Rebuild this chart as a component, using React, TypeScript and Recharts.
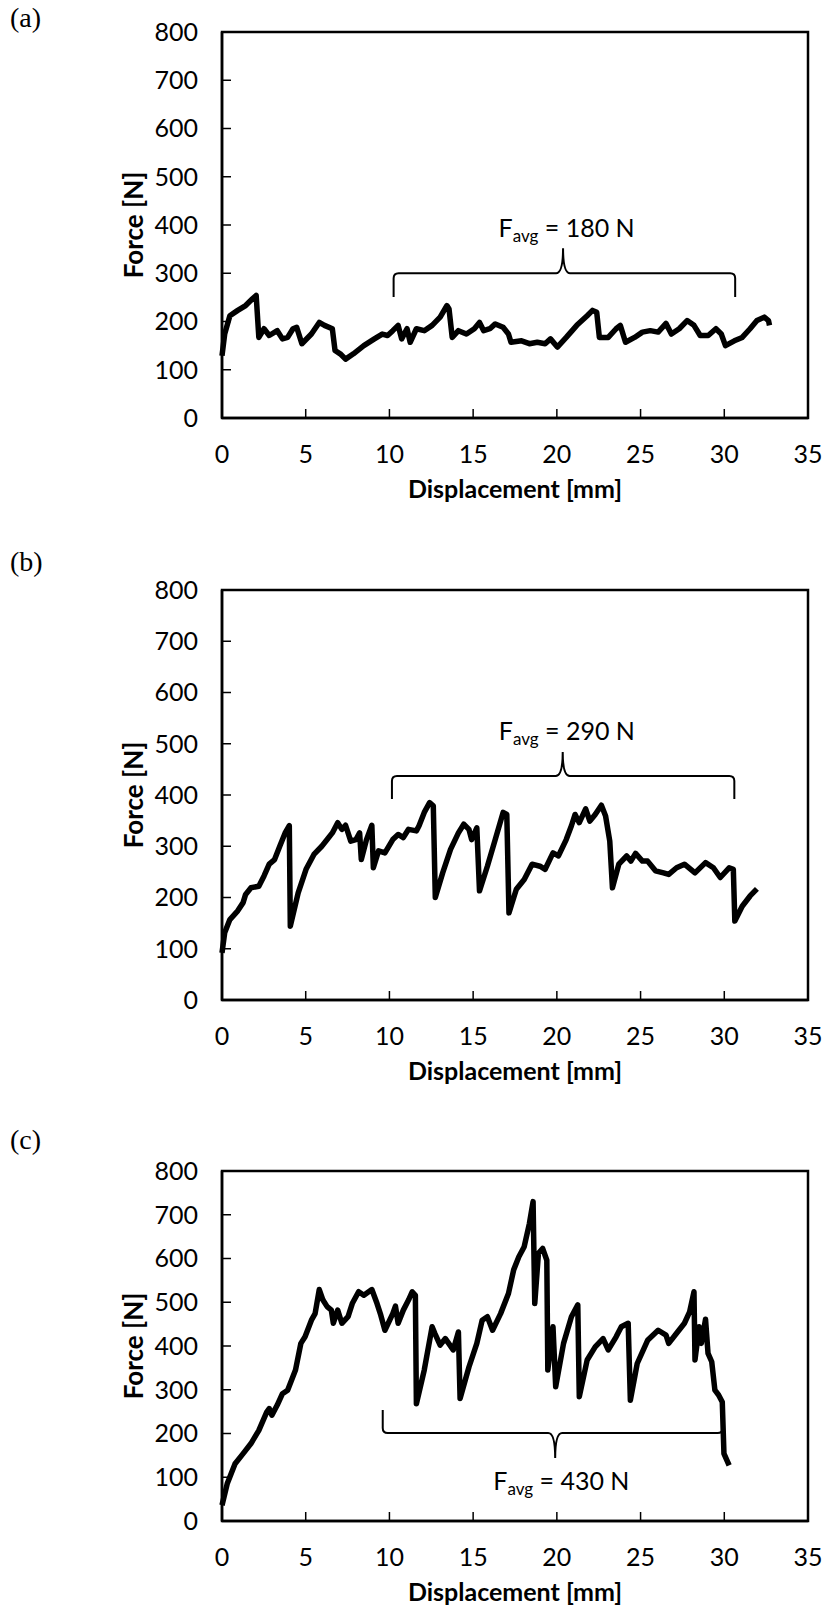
import React from 'react';
import { LineChart, Line, XAxis, YAxis, ReferenceArea, ReferenceDot } from 'recharts';

// ---- ticks ----
const X_TICKS = [0, 5, 10, 15, 20, 25, 30, 35];
const Y_TICKS = [0, 100, 200, 300, 400, 500, 600, 700, 800];

// ---- panel (a) ----
const DISP_A = [0, 0.16, 0.47, 0.94, 1.41, 1.82, 2.04, 2.2, 2.51, 2.82, 3.3, 3.61, 3.92, 4.24, 4.46, 4.77, 5.34, 5.81, 6.12, 6.59, 6.75, 7.06, 7.38, 7.85, 8.47, 9.1, 9.57, 9.89, 10.2, 10.52, 10.73, 11.05, 11.24, 11.61, 12.08, 12.55, 13.03, 13.43, 13.56, 13.75, 14.12, 14.6, 15.07, 15.38, 15.63, 16.0, 16.32, 16.79, 17.11, 17.26, 17.89, 18.36, 18.83, 19.3, 19.62, 20.03, 20.56, 21.19, 21.81, 22.13, 22.38, 22.54, 23.07, 23.54, 23.79, 24.1, 24.64, 25.11, 25.58, 26.05, 26.52, 26.84, 27.31, 27.78, 28.19, 28.56, 29.04, 29.5, 29.82, 30.07, 30.6, 31.07, 31.54, 31.95, 32.39, 32.64, 32.7];
const FORCE_A = [129, 174, 212, 223, 233, 247, 254, 167, 185, 171, 181, 164, 167, 185, 188, 154, 174, 198, 192, 185, 140, 133, 122, 133, 150, 164, 174, 171, 181, 192, 164, 185, 157, 185, 181, 192, 209, 233, 226, 167, 181, 174, 185, 198, 181, 185, 195, 188, 174, 157, 160, 154, 157, 154, 164, 147, 167, 192, 212, 223, 219, 167, 167, 185, 192, 157, 167, 178, 181, 178, 196, 174, 185, 202, 192, 171, 171, 185, 174, 150, 160, 167, 185, 202, 209, 202, 192];

// ---- panel (b) ----
const DISP_B = [0, 0.16, 0.47, 0.94, 1.26, 1.41, 1.73, 2.2, 2.51, 2.82, 3.14, 3.45, 3.77, 4.02, 4.08, 4.55, 5.02, 5.49, 5.96, 6.28, 6.59, 6.91, 7.16, 7.38, 7.69, 8.0, 8.22, 8.32, 8.63, 8.95, 9.04, 9.35, 9.73, 10.2, 10.52, 10.83, 11.14, 11.61, 11.77, 12.08, 12.4, 12.62, 12.74, 13.18, 13.65, 14.12, 14.44, 14.75, 14.91, 15.22, 15.38, 15.85, 16.32, 16.79, 17.01, 17.14, 17.58, 18.05, 18.52, 18.99, 19.3, 19.77, 20.09, 20.56, 20.87, 21.09, 21.34, 21.72, 21.97, 22.29, 22.66, 22.91, 23.16, 23.32, 23.7, 24.17, 24.42, 24.7, 25.11, 25.42, 25.89, 26.37, 26.68, 27.15, 27.62, 28.25, 28.88, 29.35, 29.76, 30.29, 30.54, 30.63, 31.07, 31.54, 31.95];
const FORCE_B = [92, 131, 157, 174, 190, 206, 219, 222, 242, 265, 274, 300, 326, 340, 144, 209, 255, 284, 300, 313, 326, 346, 333, 341, 310, 313, 326, 274, 313, 341, 258, 291, 287, 313, 323, 317, 333, 330, 340, 366, 385, 379, 200, 248, 294, 326, 343, 333, 313, 336, 213, 261, 313, 366, 362, 170, 216, 235, 265, 261, 255, 287, 281, 313, 340, 362, 346, 373, 349, 362, 380, 359, 310, 219, 265, 281, 271, 286, 271, 271, 252, 248, 245, 258, 265, 248, 268, 258, 239, 258, 255, 154, 183, 203, 217];

// ---- panel (c) ----
const DISP_C = [0, 0.31, 0.78, 1.26, 1.73, 2.2, 2.67, 2.82, 2.98, 3.3, 3.61, 3.92, 4.39, 4.71, 4.96, 5.34, 5.56, 5.81, 6.03, 6.28, 6.53, 6.65, 6.91, 7.16, 7.53, 7.78, 8.16, 8.47, 8.95, 9.26, 9.48, 9.73, 10.2, 10.36, 10.52, 10.83, 11.14, 11.36, 11.55, 11.61, 12.08, 12.55, 12.71, 13.03, 13.34, 13.81, 14.12, 14.22, 14.75, 15.22, 15.54, 15.85, 16.16, 16.64, 17.11, 17.42, 17.73, 18.05, 18.36, 18.58, 18.68, 18.9, 19.15, 19.4, 19.46, 19.77, 19.93, 20.4, 20.87, 21.25, 21.34, 21.81, 22.29, 22.76, 23.07, 23.54, 23.85, 24.26, 24.39, 24.8, 25.42, 26.05, 26.52, 26.68, 27.15, 27.62, 27.93, 28.19, 28.25, 28.5, 28.63, 28.88, 29.03, 29.25, 29.44, 29.66, 29.88, 29.98, 30.29];
const FORCE_C = [36, 85, 131, 154, 177, 207, 249, 257, 242, 265, 291, 299, 345, 406, 421, 459, 474, 529, 505, 490, 482, 452, 482, 452, 467, 497, 524, 516, 529, 497, 471, 436, 474, 491, 452, 482, 505, 524, 516, 268, 345, 444, 429, 402, 417, 391, 432, 280, 352, 406, 459, 467, 436, 474, 520, 574, 604, 627, 680, 730, 497, 612, 623, 596, 345, 444, 307, 406, 467, 494, 284, 368, 398, 417, 391, 421, 444, 452, 276, 360, 413, 436, 425, 406, 429, 452, 478, 524, 368, 444, 406, 461, 383, 364, 299, 288, 272, 154, 127];

// ---- annotations (data coordinates) ----
const BRACE_A = { x1: 10.25, x2: 30.65, bar: 300, hook: 251, tipX: 20.37, tip: 352 };
const BRACE_B = { x1: 10.15, x2: 30.6, bar: 437, hook: 392, tipX: 20.35, tip: 484 };
const BRACE_C = { x1: 9.6, x2: 29.9, bar: 201, hook: 254, tipX: 19.9, tip: 144 };
const FAVG_A = { x: 20.58, y: 375, value: '180' };
const FAVG_B = { x: 20.6, y: 507, value: '290' };
const FAVG_C = { x: 20.27, y: 71, value: '430' };

const zip = (xs: number[], ys: number[]) =>
  xs.slice(0, Math.min(xs.length, ys.length)).map((x, i) => ({ x, y: ys[i] }));

const SANS = 'Lato, "Liberation Sans", sans-serif';
const SERIF = '"Liberation Serif", "Times New Roman", serif';
const AXIS = { stroke: '#000', strokeWidth: 2.5 };

const BracePath = (props: any) => {
  const { x, y, width, height, b } = props;
  const top = Math.max(b.hook, b.tip);
  const bot = Math.min(b.hook, b.tip);
  const py = (v: number) => y + (height * (top - v)) / (top - bot);
  const px = (v: number) => x + (width * (v - b.x1)) / (b.x2 - b.x1);
  const L = px(b.x1), R = px(b.x2), M = px(b.tipX);
  const B = py(b.bar), H = py(b.hook), P = py(b.tip);
  const s = Math.sign(H - B);
  const r = 5;
  const w = 7;
  const d = `M${L},${H} L${L},${B + s * r} Q${L},${B} ${L + r},${B} L${M - w},${B} Q${M},${B} ${M},${P} Q${M},${B} ${M + w},${B} L${R - r},${B} Q${R},${B} ${R},${B + s * r} L${R},${H}`;
  return <path d={d} fill="none" stroke="#000" strokeWidth={2} />;
};

const FavgText = (props: any) => {
  const { cx, cy, value } = props;
  return (
    <text x={cx} y={cy} textAnchor="middle" fontFamily={SANS} fontSize={25} fill="#000">
      F<tspan fontSize={17} dy={5}>avg</tspan>
      <tspan dy={-5}>{` = ${value} N`}</tspan>
    </text>
  );
};

const YTitle = (props: any) => {
  const vb = props.viewBox || {};
  const cx = vb.x - 9;
  const cy = vb.y + vb.height / 2;
  return (
    <text
      x={cx}
      y={cy}
      transform={`rotate(-90, ${cx}, ${cy})`}
      textAnchor="middle"
      dominantBaseline="central"
      fontFamily={SANS}
      fontWeight="bold"
      fontSize={26}
      fill="#000"
    >
      Force [N]
    </text>
  );
};

const Frame = (props: any) => {
  const { x, y, width, height } = props;
  return <rect x={x} y={y} width={width} height={height} fill="none" stroke="#000" strokeWidth={2.5} />;
};

const M_TOP = 30;
const AX_H = 80;
const M_BOT = 15;
const Y_W = 80;
const PLOT_LEFT = 222;
const PLOT_RIGHT = 808;
const W = 825;

type PanelProps = {
  data: { x: number; y: number }[];
  brace: any;
  favg: any;
  plotTop: number;
  plotH: number;
};

const Panel = ({ data, brace, favg, plotTop, plotH }: PanelProps) => {
  const height = M_TOP + plotH + AX_H + M_BOT;
  const tickStyle = { fill: '#000', fontSize: 25, fontFamily: SANS };
  return (
    <div style={{ position: 'absolute', left: 0, top: plotTop - M_TOP, width: W, height }}>
      <LineChart
        width={W}
        height={height}
        data={data}
        margin={{ top: M_TOP, right: W - PLOT_RIGHT, bottom: M_BOT, left: PLOT_LEFT - Y_W }}
      >
        <XAxis
          dataKey="x"
          type="number"
          domain={[0, 35]}
          ticks={X_TICKS}
          interval={0}
          height={AX_H}
          tickSize={-9}
          tickMargin={36}
          tick={tickStyle}
          tickLine={{ stroke: '#000', strokeWidth: 1.5 }}
          axisLine={AXIS}
          label={{
            value: 'Displacement [mm]',
            position: 'insideBottom',
            offset: 0,
            fill: '#000',
            fontSize: 25,
            fontWeight: 'bold',
            fontFamily: SANS,
          }}
        />
        <YAxis
          type="number"
          domain={[0, 800]}
          ticks={Y_TICKS}
          interval={0}
          width={Y_W}
          tickSize={-9}
          tickMargin={33}
          tick={tickStyle}
          tickLine={{ stroke: '#000', strokeWidth: 1.5 }}
          axisLine={AXIS}
          label={{ content: (p: any) => <YTitle {...p} /> }}
        />
        <ReferenceArea x1={0} x2={35} y1={0} y2={800} shape={(p: any) => <Frame {...p} />} />
        <ReferenceArea
          x1={brace.x1}
          x2={brace.x2}
          y1={Math.min(brace.hook, brace.tip)}
          y2={Math.max(brace.hook, brace.tip)}
          shape={(p: any) => <BracePath {...p} b={brace} />}
        />
        <ReferenceDot
          x={favg.x}
          y={favg.y}
          r={0}
          shape={(p: any) => <FavgText {...p} value={favg.value} />}
        />
        <Line
          type="linear"
          dataKey="y"
          stroke="#000"
          strokeWidth={5.5}
          strokeLinejoin="round"
          dot={false}
          activeDot={false}
          isAnimationActive={false}
        />
      </LineChart>
    </div>
  );
};

const PANEL_LABELS = [
  { text: '(a)', y: 27 },
  { text: '(b)', y: 571 },
  { text: '(c)', y: 1149 },
];

export default function App() {
  return (
    <div style={{ position: 'absolute', left: 0, top: 0, width: W, height: 1611, background: '#fff' }}>
      <svg width={W} height={1611} style={{ position: 'absolute', left: 0, top: 0 }}>
        {PANEL_LABELS.map((l) => (
          <text key={l.text} x={10} y={l.y} fontFamily={SERIF} fontSize={28} fill="#000">
            {l.text}
          </text>
        ))}
      </svg>
      <Panel data={zip(DISP_A, FORCE_A)} brace={BRACE_A} favg={FAVG_A} plotTop={32} plotH={386} />
      <Panel data={zip(DISP_B, FORCE_B)} brace={BRACE_B} favg={FAVG_B} plotTop={590} plotH={410} />
      <Panel data={zip(DISP_C, FORCE_C)} brace={BRACE_C} favg={FAVG_C} plotTop={1171} plotH={350} />
    </div>
  );
}
